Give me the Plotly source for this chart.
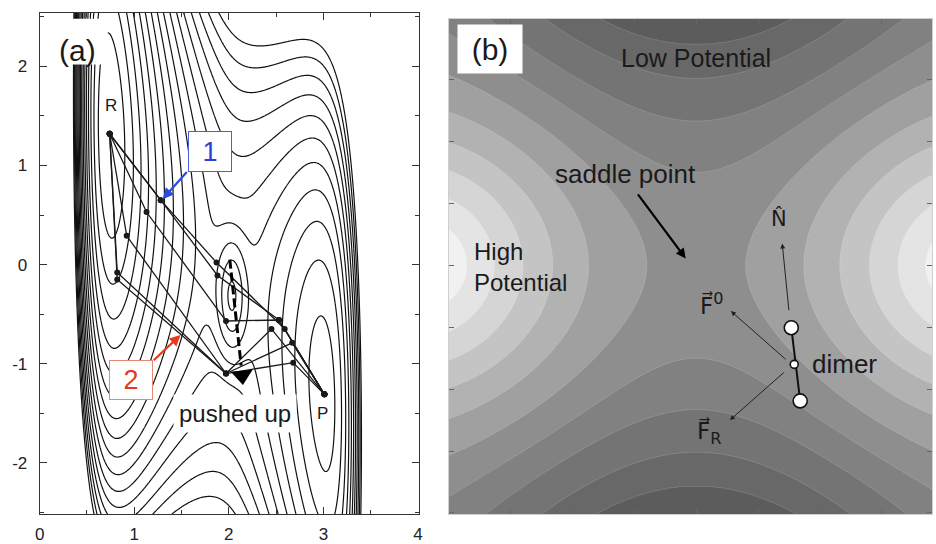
import numpy as np
import plotly.graph_objects as go

FONT = "Liberation Sans, Arial, sans-serif"
MATH_FONT = "DejaVu Sans, Liberation Sans, sans-serif"

# ---------------- panel (a): LEPS + harmonic oscillator surface ----------------
LEPS_A, LEPS_B, LEPS_C = 0.05, 0.80, 0.05
D_AB, D_BC, D_AC = 4.746, 4.746, 3.445
R0, ALPHA = 0.742, 1.942
R_AC, K_C, C_HO = 3.742, 0.2025, 1.154
# shallow intermediate basin between the two barriers
MID_X, MID_Y, MID_DEPTH, MID_WX, MID_WY = 2.03, -0.33, 1.3, 0.16, 0.6

CONTOUR_START, CONTOUR_END, CONTOUR_STEP = -4.19, 1.1, 0.35


def q_term(r, d):
    e = np.exp(-ALPHA * (r - R0))
    return d / 2.0 * (1.5 * e * e - e)


def j_term(r, d):
    e = np.exp(-ALPHA * (r - R0))
    return d / 4.0 * (e * e - 6.0 * e)


def leps(rab, rbc):
    rac = rab + rbc
    q = (q_term(rab, D_AB) / (1 + LEPS_A) + q_term(rbc, D_BC) / (1 + LEPS_B)
         + q_term(rac, D_AC) / (1 + LEPS_C))
    jab = j_term(rab, D_AB) / (1 + LEPS_A)
    jbc = j_term(rbc, D_BC) / (1 + LEPS_B)
    jac = j_term(rac, D_AC) / (1 + LEPS_C)
    s = jab ** 2 + jbc ** 2 + jac ** 2 - jab * jbc - jbc * jac - jab * jac
    return q - np.sqrt(np.maximum(s, 0.0))


def leps_ho(rab, x):
    v = leps(rab, R_AC - rab) + 2 * K_C * (rab - (R_AC / 2 - x / C_HO)) ** 2
    v -= MID_DEPTH * np.exp(-((rab - MID_X) / MID_WX) ** 2 - ((x - MID_Y) / MID_WY) ** 2)
    return v


ga_x = np.linspace(0.0, 4.01, 440)
ga_y = np.linspace(-2.52, 2.54, 440)
GX, GY = np.meshgrid(ga_x, ga_y)
Va = leps_ho(GX, GY)

# NEB chains between reactant R and product P
chain_x = [
    [0.74, 1.28, 1.87, 2.59, 3.01],
    [0.74, 1.13, 1.97, 2.53, 3.01],
    [0.74, 1.28, 1.88, 2.53, 3.01],
    [0.74, 0.92, 1.97, 2.67, 3.01],
    [0.74, 0.82, 1.97, 2.45, 3.01],
    [0.74, 0.82, 1.97, 2.68, 3.01],
]
chain_y = [
    [1.32, 0.65, 0.02, -0.65, -1.31],
    [1.32, 0.53, -0.57, -0.56, -1.31],
    [1.32, 0.65, -0.11, -0.56, -1.31],
    [1.32, 0.29, -1.10, -0.79, -1.31],
    [1.32, -0.08, -1.10, -0.65, -1.31],
    [1.32, -0.15, -1.10, -0.99, -1.31],
]
# image pushed up along the dashed direction
push_x = [2.01, 2.13]
push_y = [0.05, -1.02]
push_tip = (2.14, -1.12)

# ---------------- panel (b): schematic saddle surface ----------------
BUMP_X, BUMP_W = 4.4, 2.6
WELL_Y, WELL_W, WELL_DEPTH = 7.0, 4.0, 1.5


def saddle_surface(x, y):
    bumps = (np.exp(-((x - BUMP_X) ** 2 + y ** 2) / BUMP_W ** 2)
             + np.exp(-((x + BUMP_X) ** 2 + y ** 2) / BUMP_W ** 2))
    wells = (np.exp(-(x ** 2 + (y - WELL_Y) ** 2) / WELL_W ** 2)
             + np.exp(-(x ** 2 + (y + WELL_Y) ** 2) / WELL_W ** 2))
    return bumps - WELL_DEPTH * wells


# band edges where the shading changes, along each axis through the saddle
edge_x = [0.8, 1.74, 2.32, 2.8, 3.26, 3.7]
edge_y = [1.5, 2.33, 3.02, 3.56]
band_grays = ["#5c5c5c", "#686868", "#747474", "#818181", "#8e8e8e", "#a0a0a0",
              "#b2b2b2", "#c4c4c4", "#d5d5d5", "#e4e4e4", "#f1f1f1"]

gb_x = np.linspace(-4.0, 3.81, 360)
gb_y = np.linspace(-4.02, 3.98, 360)
BX, BY = np.meshgrid(gb_x, gb_y)
Vb = saddle_surface(BX, BY)
levels = sorted([saddle_surface(0.0, v) for v in edge_y] + [saddle_surface(v, 0.0) for v in edge_x])
lev_ext = [Vb.min() - 1.0] + levels + [Vb.max() + 1.0]
idx_ext = [-1.0] + list(range(len(levels))) + [float(len(levels))]
Zb = np.interp(Vb, lev_ext, idx_ext)

nb = len(band_grays)
gray_scale = []
for i, c in enumerate(band_grays):
    gray_scale.append([i / nb, c])
    gray_scale.append([(i + 1) / nb, c])

# dimer images and midpoint
dimer_x = [1.536, 1.584, 1.68]
dimer_y = [-1.008, -1.60, -2.19]
dimer_size = [14, 8, 14]

fig = go.Figure()

fig.add_trace(go.Contour(
    x=ga_x, y=ga_y, z=Va, xaxis="x", yaxis="y",
    contours=dict(start=CONTOUR_START, end=CONTOUR_END, size=CONTOUR_STEP, coloring="lines"),
    colorscale=[[0, "#111"], [1, "#111"]], showscale=False,
    line=dict(width=1.2, smoothing=1.0), hoverinfo="skip",
))

for cx, cy in zip(chain_x, chain_y):
    fig.add_trace(go.Scatter(
        x=cx, y=cy, xaxis="x", yaxis="y", mode="lines+markers",
        line=dict(color="#1a1a1a", width=1.3),
        marker=dict(color="#1a1a1a", size=6), showlegend=False, hoverinfo="skip",
    ))

fig.add_trace(go.Scatter(
    x=push_x, y=push_y, xaxis="x", yaxis="y", mode="lines",
    line=dict(color="black", width=3, dash="9px,4px"), showlegend=False, hoverinfo="skip",
))
fig.add_trace(go.Scatter(
    x=[push_tip[0]], y=[push_tip[1]], xaxis="x", yaxis="y", mode="markers",
    marker=dict(symbol="triangle-down", size=19, color="black", angle=-5),
    showlegend=False, hoverinfo="skip",
))

fig.add_trace(go.Contour(
    x=gb_x, y=gb_y, z=Zb, xaxis="x2", yaxis="y2",
    contours=dict(start=0, end=len(levels) - 1, size=1, coloring="fill"),
    colorscale=gray_scale, showscale=False,
    line=dict(width=0.6, color="rgba(255,255,255,0.25)", smoothing=1.0), hoverinfo="skip",
))

fig.add_trace(go.Scatter(
    x=[dimer_x[0], dimer_x[2]], y=[dimer_y[0], dimer_y[2]], xaxis="x2", yaxis="y2",
    mode="lines", line=dict(color="#111", width=2), showlegend=False, hoverinfo="skip",
))
fig.add_trace(go.Scatter(
    x=dimer_x, y=dimer_y, xaxis="x2", yaxis="y2", mode="markers", opacity=1.0,
    marker=dict(size=dimer_size, color="rgb(255,255,255)", opacity=1.0,
                line=dict(color="#111", width=1.6)),
    showlegend=False, hoverinfo="skip",
))

ann = []


def text(x, y, s, size, ref="", color="#1a1a1a", family=FONT, **kw):
    d = dict(x=x, y=y, text=s, showarrow=False, xref="x" + ref, yref="y" + ref,
             font=dict(family=family, size=size, color=color))
    d.update(kw)
    ann.append(d)


def arrow(x0, y0, x1, y1, ref="", color="black", width=1.0, head=2, size=1.0):
    ann.append(dict(x=x1, y=y1, ax=x0, ay=y0, xref="x" + ref, yref="y" + ref,
                    axref="x" + ref, ayref="y" + ref, text="", showarrow=True,
                    arrowcolor=color, arrowwidth=width, arrowhead=head, arrowsize=size,
                    standoff=0, startstandoff=0))


# panel (a) labels
text(0.40, 2.16, "(a)", 30)
text(0.75, 1.61, "R", 17)
text(2.99, -1.50, "P", 17, bgcolor="white", borderpad=1)
text(2.07, -1.50, "pushed up", 24, bgcolor="white", borderpad=5)
text(1.80, 1.14, "1", 27, color="#2b3fd6", bgcolor="white", bordercolor="#4a5ee0",
     borderwidth=1, width=40, height=37)
arrow(1.57, 0.95, 1.30, 0.66, color="#2b4be0", width=2.2, head=2, size=1.0)
text(0.965, -1.17, "2", 27, color="#e5381f", bgcolor="white", bordercolor="#e58a78",
     borderwidth=1, width=40, height=36)
arrow(1.19, -0.98, 1.49, -0.71, color="#e8381e", width=2.2, head=2, size=1.0)

# panel (b) labels
text(-3.33, 3.49, "(b)", 30, ref="2", bgcolor="white", width=62, height=46)
text(0.0, 3.34, "Low Potential", 25, ref="2")
text(-1.15, 1.47, "saddle point", 26, ref="2")
arrow(-0.96, 1.17, -0.17, 0.11, ref="2", width=2.2, head=2, size=0.9)
text(-3.62, -0.02, "High<br>Potential", 24, ref="2", xanchor="left", align="left")
text(2.4, -1.60, "dimer", 26, ref="2")
text(1.33, 0.76, "N\u0302", 21, ref="2", family=MATH_FONT)
arrow(1.50, -0.75, 1.39, 0.35, ref="2", color="#222", width=1.0, head=2, size=1.0)
text(0.24, -0.62, "F\u20d7<sup>0</sup>", 23, ref="2", family=MATH_FONT)
arrow(1.47, -1.54, 0.56, -0.74, ref="2", color="#222", width=1.0, head=2, size=1.0)
text(0.20, -2.70, "F\u20d7<sub>R</sub>", 23, ref="2", family=MATH_FONT)
arrow(1.44, -1.71, 0.544, -2.50, ref="2", color="#222", width=1.0, head=2, size=1.0)

shapes = [
    dict(type="rect", xref="x", yref="y", x0=0.06, x1=0.72, y0=2.02, y1=2.48,
         fillcolor="white", line=dict(width=0), layer="above"),
]

ax_a = dict(showline=True, linecolor="#333", linewidth=1, mirror="ticks", ticks="inside",
            ticklen=7, tickcolor="#333", showgrid=False, zeroline=False,
            tickfont=dict(family=FONT, size=17, color="#222"),
            minor=dict(ticks="inside", ticklen=4, tickcolor="#333", dtick=0.5))
ax_b = dict(showline=True, linecolor="#cfcfcf", linewidth=1, mirror="ticks", ticks="inside",
            ticklen=5, tickcolor="#666", showgrid=False, zeroline=False,
            showticklabels=False, dtick=1, tick0=0)

fig.update_layout(
    width=936, height=544, margin=dict(l=0, r=0, t=0, b=0),
    paper_bgcolor="white", plot_bgcolor="white", showlegend=False,
    xaxis=dict(domain=[35 / 936, 418 / 936], range=[0, 4.01], anchor="y",
               tickvals=[0, 1, 2, 3, 4], ticktext=["0", "1", "2", "3", "4"],
               ticklabelstandoff=4, **ax_a),
    yaxis=dict(domain=[1 - 519 / 544, 1 - 13 / 544], range=[-2.52, 2.54], anchor="x",
               tickvals=[-2, -1, 0, 1, 2], ticktext=["-2", "-1", "0", "1", "2"],
               ticklabelstandoff=8, **ax_a),
    xaxis2=dict(domain=[448 / 936, 1.0], range=[-4.0, 3.81], anchor="y2", **ax_b),
    yaxis2=dict(domain=[1 - 519 / 544, 1 - 19 / 544], range=[-4.02, 3.98], anchor="x2", **ax_b),
    annotations=ann, shapes=shapes,
)

fig.write_html("out.html")
